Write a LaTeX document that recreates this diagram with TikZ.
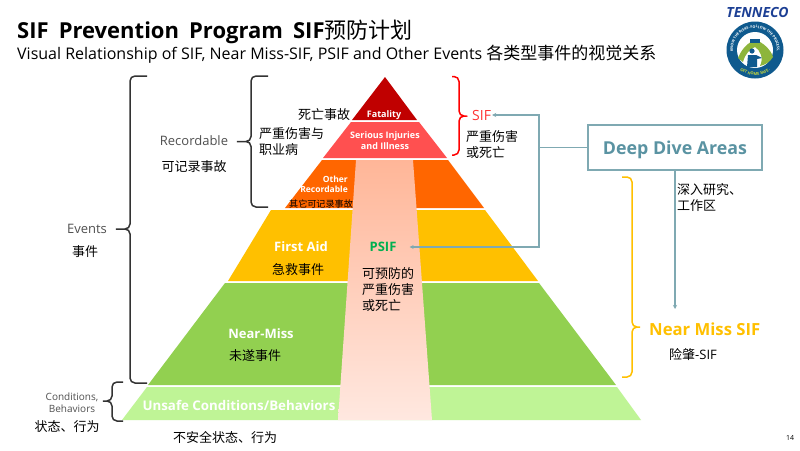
\documentclass[tikz,border=0pt]{standalone}
\usepackage{fontspec}
\setmainfont{Open Sans}
\newfontfamily\cjk{Noto Sans CJK SC}
\usetikzlibrary{arrows.meta, positioning, decorations.text}
\definecolor{linkcol}{HTML}{7FA9B2}
\definecolor{deepcol}{HTML}{5A93A2}
\definecolor{greycol}{HTML}{505050}
\definecolor{navycol}{HTML}{0F5A8E}
\definecolor{brandcol}{HTML}{1C3F94}
\definecolor{fatalcol}{HTML}{C00000}
\definecolor{seriouscol}{HTML}{FF5050}
\definecolor{othercol}{HTML}{FF6600}
\definecolor{aidcol}{HTML}{FFC000}
\definecolor{misscol}{HTML}{92D050}
\definecolor{unsafecol}{HTML}{BFF496}
\definecolor{bandtop}{HTML}{FFB698}
\definecolor{bandlow}{HTML}{FFE8E0}
\definecolor{psifcol}{HTML}{00B050}
\definecolor{sifcol}{HTML}{FF3333}
\definecolor{roadcol}{HTML}{8DB53C}
\definecolor{safecol}{HTML}{C8D83C}

\begin{document}
\begin{tikzpicture}[x=1pt, y=-1pt,
    every node/.style={inner sep=0pt},
    zh/.style={font=\fontsize{13}{13}\cjk, text=black},
    zhleft/.style={zh, anchor=west, align=left},
    white label/.style={text=white, font=\fontsize{#1}{#1}\bfseries, align=center},
    grey label/.style={text=greycol, font=\fontsize{#1}{#1}\selectfont, align=center},
    curly/.style={draw=#1, line width=1.5pt, rounded corners=5pt},
    link/.style={draw=linkcol, line width=1.2pt},
    arr/.style={link, -{Stealth[length=4pt, width=4pt]}}
  ]
    \useasboundingbox (0,0) rectangle (800,450);
    \fill[white] (0,0) rectangle (800,450);

    % titles
    \node[anchor=west, font=\fontsize{22}{22}\bfseries] (title) at (17,32)
      {SIF\hspace{.2em} Prevention\hspace{.2em} Program\hspace{.2em} SIF{\cjk\mdseries 预防计划}};
    \node[anchor=west, font=\fontsize{16}{16}\selectfont] (subtitle) at (17,54)
      {Visual Relationship of SIF, Near Miss-SIF, PSIF and Other Events {\cjk\fontsize{17}{17}\selectfont 各类型事件的视觉关系}};

    % pyramid tiers
    \fill[fatalcol] (385,77) -- (417,120) -- (352,120) -- cycle;
    \fill[seriouscol] (351,122) -- (419,122) -- (447,158) -- (323,158) -- cycle;
    \fill[othercol] (322,160) -- (448,160) -- (484,208) -- (285,208) -- cycle;
    \fill[aidcol] (271,210) -- (485,210) -- (538,281) -- (228,281) -- cycle;
    \fill[misscol] (225,283) -- (539,283) -- (616,385) -- (148,385) -- cycle;
    \fill[unsafecol] (147,387) -- (617,387) -- (641,420) -- (122,420) -- cycle;
    % PSIF band
    \shade[top color=bandtop, bottom color=bandlow]
      (356,160) -- (413,160) -- (432,420) -- (338,420) -- cycle;

    % labels on the tiers
    \node[white label=9] (fatal) at (384,115) {Fatality};
    \node[white label=9] (serious) at (385,140.5) {Serious Injuries\\[2pt]and Illness};
    \node[white label=8.5, align=right, anchor=east] (other) at (348,184) {Other\\[1.5pt]Recordable};
    \node[zh, font=\fontsize{9.1}{9.1}\cjk] (otherzh) at (321,204) {其它可记录事故};
    \node[white label=13] (aid) at (301,247) {First Aid};
    \node[zh] (aidzh) at (298,270) {急救事件};
    \node[text=psifcol, font=\fontsize{13}{13}\bfseries] (psif) at (383,247) {PSIF};
    \node[zhleft, text width=60pt] (psifzh) at (362,290) {可预防的\\[3pt]严重伤害\\[3pt]或死亡};
    \node[white label=13] (miss) at (261,333.5) {Near-Miss};
    \node[zh] (misszh) at (255,356) {未遂事件};
    \node[white label=13.3] (unsafe) at (239,405) {Unsafe Conditions/Behaviors};
    \node[zh] (unsafezh) at (225,438) {不安全状态、行为};

    % left labels
    \node[grey label=13] (events) at (87,229) {Events};
    \node[zh] (eventszh) at (85,252) {事件};
    \node[grey label=13] (record) at (194,141) {Recordable};
    \node[zh] (recordzh) at (194,167) {可记录事故};
    \node[zh] (deathzh) at (324,114.5) {死亡事故};
    \node[zhleft] (injuryzh) at (259,141.5) {严重伤害与\\[3pt]职业病};
    \node[grey label=10] (cond) at (72,402.5) {Conditions,\\[2.5pt]Behaviors};
    \node[zh] (condzh) at (67,427) {状态、行为};

    % braces
    \draw[curly=black!80] (147,76) -- (130,76) -- (130,229) -- (113,229) -- (130,229) -- (130,383) -- (147,383);
    \draw[curly=black!80] (268,76) -- (251,76) -- (251,141.5) -- (234,141.5) -- (251,141.5) -- (251,207) -- (268,207);
    \draw[curly=black!80] (123,382) -- (112,382) -- (112,401) -- (100,401) -- (112,401) -- (112,421) -- (123,421);
    \draw[curly=red] (452,76.5) -- (459,76.5) -- (459,116) -- (468,116) -- (459,116) -- (459,155) -- (452,155);
    \draw[curly=aidcol] (622,177) -- (632,177) -- (632,327) -- (643,327) -- (632,327) -- (632,377) -- (622,377);

    % right labels
    \node[anchor=west, text=sifcol, font=\fontsize{14}{14}\selectfont] (sif) at (472,115) {SIF};
    \node[zhleft] (sifzh) at (466,144.5) {严重伤害\\[3pt]或死亡};
    \node[draw=linkcol, line width=1.2pt, minimum width=174pt, minimum height=45pt,
          text height=13pt, text depth=0pt,
          text=deepcol, font=\fontsize{17.8}{17.8}\bfseries] (deep) at (675,147.5) {Deep Dive Areas};
    \node[zhleft] (deepzh) at (677,198) {深入研究、\\[3pt]工作区};
    \node[anchor=west, text=aidcol, font=\fontsize{16.7}{16.7}\bfseries] (nearsif) at (649,329) {Near Miss SIF};
    \node[zh] (nearzh) at (693,355) {险肇{\fontsize{13}{13}\rmfamily -SIF}};
    \node[font=\fontsize{7}{7}\selectfont] (page) at (790,438) {14};

    % connectors
    \coordinate (branch) at (539,147.5);
    \coordinate (nearend) at (675,309);
    \draw[link] (deep.west) -- (branch);
    \draw[arr] (branch) |- ([xshift=1pt]sif.east);
    \draw[arr] (branch) |- ([xshift=13pt]psif.east);
    \draw[arr] (deep.south) -- (nearend);

    % logo
    \node[text=brandcol, font=\fontsize{14}{14}\bfseries\itshape] (brand) at (757.5,12.5) {TENNECO};
    \node[circle, fill=navycol, minimum size=57pt] (badge) at (755,50) {};
    \fill[white] (badge.center) circle (18pt);
    \fill[roadcol] (738,58) .. controls (742,48) and (749,42) .. (755,40)
      .. controls (763,42) and (771,50) .. (773,57) .. controls (770,62) and (765,65) .. (760,66)
      .. controls (764,58) and (760,50) .. (755,47) .. controls (750,49) and (745,54) .. (743,62) -- cycle;
    \fill[navycol] (750,39) rectangle (760,43);
    \fill[navycol] (752,51) circle (2.6pt);
    \fill[navycol] (747,67) -- (748,55) -- (756,55) -- (762,58) -- (757,59) -- (757,67) -- cycle;
    \path[postaction={decorate, decoration={text along path, text align=center,
        text={|\fontsize{3.6}{3.6}\bfseries\color{white}|KNOW THE RISKS. FOLLOW THE PROCESS.}}}]
      (734.3,57.5) arc[start angle=200, end angle=-20, radius=22pt];
    \path[postaction={decorate, decoration={text along path, text align=center,
        text={|\fontsize{4}{4}\bfseries\color{safecol}|GET HOME SAFE.}}}]
      (734.3,64.5) arc[start angle=215, end angle=325, radius=25.2pt];
  \end{tikzpicture}
\end{document}
